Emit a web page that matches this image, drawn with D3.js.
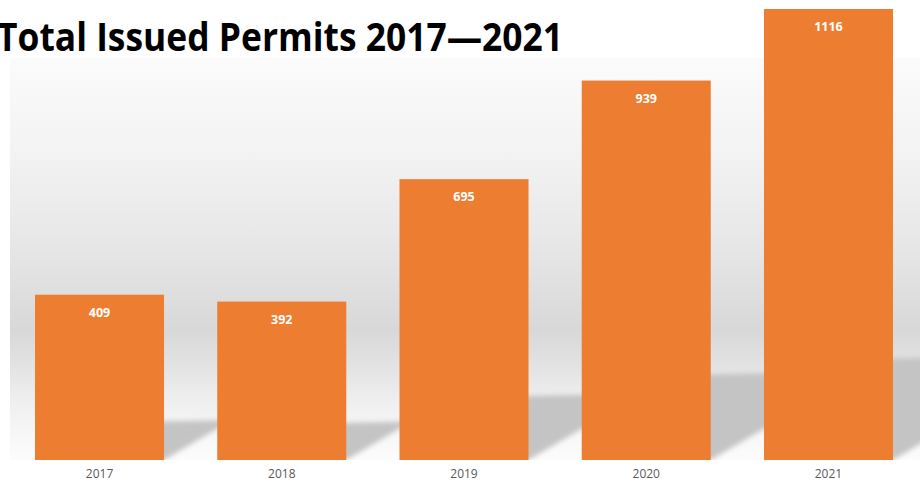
<!DOCTYPE html>
<html>
<head>
<meta charset="utf-8">
<script src="https://cdn.jsdelivr.net/npm/d3@7/dist/d3.min.js"></script>
<style>
  html, body { margin: 0; padding: 0; background: #ffffff; }
  svg { display: block; }
</style>
</head>
<body>
<svg id="chart" width="920" height="482"></svg>
<script>
const categories = ["2017", "2018", "2019", "2020", "2021"];
const permits = [409, 392, 695, 939, 1116];
const titleText = "Total Issued Permits 2017\u20142021";

const W = 920, H = 482;
const svg = d3.select("#chart");
const baseY = 460;

const x = d3.scaleBand().domain(categories).range([8.4, 919.6]).paddingInner(0.292).paddingOuter(0.146);
const y = d3.scaleLinear().domain([0, 1116]).range([baseY, 9]);
const shadowH = d3.scaleLinear().domain([0, 1116]).range([0, 99]);

const defs = svg.append("defs");
const grad = defs.append("linearGradient").attr("id", "wall")
  .attr("gradientUnits", "userSpaceOnUse").attr("x1", 0).attr("y1", 58).attr("x2", 0).attr("y2", baseY);
[[58, "#fbfbfb"], [150, "#f3f3f3"], [250, "#e6e6e6"], [330, "#d8d8d8"], [370, "#e4e4e4"], [395, "#ededed"], [430, "#f6f6f6"], [460, "#fcfcfc"]]
  .forEach(([o, c]) => grad.append("stop").attr("offset", ((o - 58) / (baseY - 58))).attr("stop-color", c));
defs.append("filter").attr("id", "blur").attr("x", "-20%").attr("y", "-20%").attr("width", "140%").attr("height", "140%")
  .append("feGaussianBlur").attr("stdDeviation", 2.5);
defs.append("clipPath").attr("id", "plotclip").append("rect")
  .attr("x", 10).attr("y", 58).attr("width", W - 10).attr("height", baseY - 58);

svg.append("rect").attr("x", 10).attr("y", 58).attr("width", W - 10).attr("height", baseY - 58)
  .attr("fill", "url(#wall)");

// soft cast shadows behind bars
svg.append("g").attr("clip-path", "url(#plotclip)").attr("filter", "url(#blur)")
  .selectAll("path").data(categories).join("path")
  .attr("fill", "#c4c4c4")
  .attr("d", (d, i) => {
    const x0 = x(d), x1 = x(d) + x.bandwidth();
    const top = baseY - shadowH(permits[i]);
    const dx = 56, dy = 33;
    return `M${x0 + 10},${top} L${x1 + 75},${top - 4} L${x1 + 75},${baseY - dy - 8} L${x1 + dx},${baseY - dy} L${x1},${baseY} L${x0 + 10},${baseY} Z`;
  });

// bars
svg.append("g").selectAll("rect").data(categories).join("rect")
  .attr("x", d => x(d)).attr("width", x.bandwidth())
  .attr("y", (d, i) => y(permits[i])).attr("height", (d, i) => baseY - y(permits[i]))
  .attr("fill", "#ed7d31");

// value labels
svg.append("g").selectAll("text").data(categories).join("text")
  .attr("x", d => x(d) + x.bandwidth() / 2)
  .attr("y", (d, i) => y(permits[i]) + 22)
  .attr("text-anchor", "middle")
  .attr("font-family", "'Open Sans', 'Noto Sans', sans-serif")
  .attr("font-weight", "bold").attr("font-size", 12.5).attr("fill", "#ffffff")
  .text((d, i) => permits[i]);

// x axis
const xAxis = svg.append("g").attr("transform", `translate(0,${baseY})`)
  .call(d3.axisBottom(x).tickSize(0).tickPadding(0));
xAxis.select(".domain").remove();
xAxis.selectAll("text")
  .attr("y", 17.5).attr("dy", null)
  .attr("font-family", "'Open Sans', 'Noto Sans', sans-serif")
  .attr("font-size", 12).attr("fill", "#595959");

// title
svg.append("text").attr("x", -3).attr("y", 51)
  .attr("font-family", "'Open Sans', 'Noto Sans', sans-serif")
  .attr("font-weight", "bold").attr("font-size", 39).attr("fill", "#000000")
  .attr("textLength", 566).attr("lengthAdjust", "spacingAndGlyphs")
  .text(titleText);
</script>
</body>
</html>
